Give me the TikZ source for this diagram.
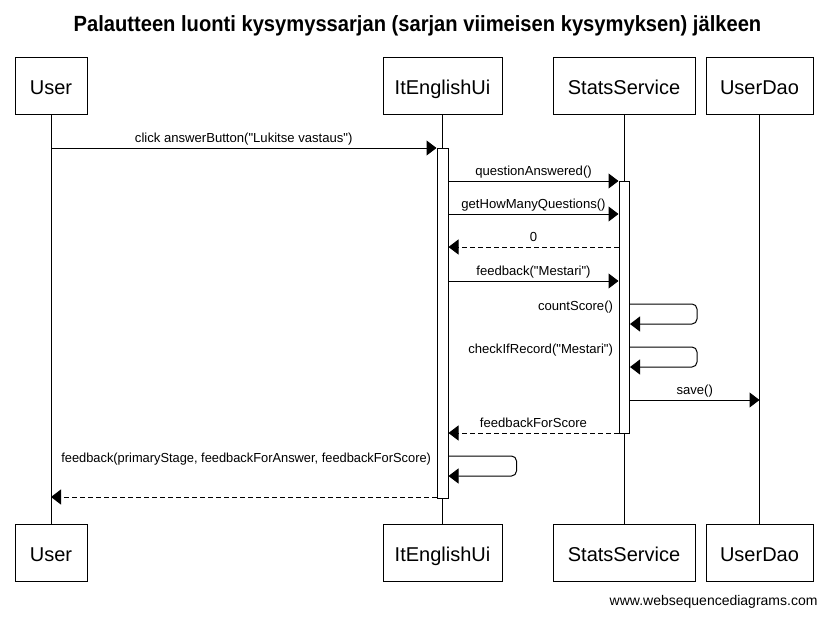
\documentclass[tikz,border=0pt]{standalone}
\usepackage{fontspec}
\setmainfont{Liberation Sans}
\newfontfamily\plainfont{Liberation Sans}
\usetikzlibrary{arrows.meta}
\begin{document}
\begin{tikzpicture}[x=1pt,y=-1pt,line width=1pt,
  party/.style={draw, fill=white, minimum height=57pt, inner sep=0pt, text height=17.5pt, text depth=0pt, font=\fontsize{20}{24}\selectfont},
  actbox/.style={draw, fill=white, inner sep=0pt},
  msg/.style={-{Triangle[length=10pt,width=15pt]}},
  ret/.style={msg, dash pattern=on 5pt off 3pt},
  lbl/.style={font=\plainfont\fontsize{13.1}{16}\selectfont, inner sep=0pt, anchor=base, yshift=5.5pt},
  lblr/.style={font=\plainfont\fontsize{13.1}{16}\selectfont, inner sep=0pt, anchor=base east}]
\useasboundingbox (0,0) rectangle (827,616);
% title
\node[font=\bfseries\fontsize{22}{26}\selectfont, inner sep=0pt, anchor=base] (title) at (417.5,31.7)
  {\scalebox{0.916}[1]{Palautteen luonti kysymyssarjan (sarjan viimeisen kysymyksen) jälkeen}};
% participants
\node[party, minimum width=72pt]  (userT) at (51,85.5) {User};
\node[party, minimum width=119pt] (uiT)   at (442.5,85.5) {ItEnglishUi};
\node[party, minimum width=142pt] (ssT)   at (624,85.5) {StatsService};
\node[party, minimum width=107pt] (daoT)  at (759.5,85.5) {UserDao};
\node[party, minimum width=72pt]  (userB) at (51,552.5) {User};
\node[party, minimum width=119pt] (uiB)   at (442.5,552.5) {ItEnglishUi};
\node[party, minimum width=142pt] (ssB)   at (624,552.5) {StatsService};
\node[party, minimum width=107pt] (daoB)  at (759.5,552.5) {UserDao};
% lifelines
\draw (userT.south) -- (userB.north);
\draw (uiT.south) -- (uiB.north);
\draw (ssT.south) -- (ssB.north);
\draw (daoT.south) -- (daoB.north);
% activations
\node[actbox, minimum width=11pt, minimum height=350pt] (act1) at (442.5,323) {};
\node[actbox, minimum width=10.5pt, minimum height=252pt] (act2) at (624.25,307) {};
% messages
\draw[msg] (userT |- 0,148) -- (act1.west |- 0,148)
  node[lbl, midway] {click answerButton("Lukitse vastaus")};
\draw[msg] (act1.east |- 0,181) -- (act2.west |- 0,181)
  node[lbl, midway] {questionAnswered()};
\draw[msg] (act1.east |- 0,214) -- (act2.west |- 0,214)
  node[lbl, midway] {getHowManyQuestions()};
\draw[ret] (act2.west |- 0,247) -- (act1.east |- 0,247)
  node[lbl, midway] {0};
\draw[msg] (act1.east |- 0,281) -- (act2.west |- 0,281)
  node[lbl, midway] {feedback("Mestari")};
% self calls on StatsService
\draw[msg, rounded corners=5pt] (act2.east |- 0,304) -- ([xshift=67pt]act2.east |- 0,304)
  -- ([xshift=67pt]act2.east |- 0,324) -- (act2.east |- 0,324);
\node[lblr] (lcs) at ([xshift=-5pt]act2.west |- 0,310) {countScore()};
\draw[msg, rounded corners=5pt] (act2.east |- 0,347) -- ([xshift=67pt]act2.east |- 0,347)
  -- ([xshift=67pt]act2.east |- 0,367) -- (act2.east |- 0,367);
\node[lblr] (lcr) at ([xshift=-5pt]act2.west |- 0,353) {checkIfRecord("Mestari")};
\draw[msg] (act2.east |- 0,400) -- (daoT |- 0,400)
  node[lbl, midway] {save()};
\draw[ret] (act2.west |- 0,433) -- (act1.east |- 0,433)
  node[lbl, midway] {feedbackForScore};
% self call on ItEnglishUi
\draw[msg, rounded corners=5pt] (act1.east |- 0,456) -- ([xshift=68pt]act1.east |- 0,456)
  -- ([xshift=68pt]act1.east |- 0,476) -- (act1.east |- 0,476);
\node[lblr] (lfb) at ([xshift=-5pt]act1.west |- 0,462) {\scalebox{0.98}[1]{feedback(primaryStage, feedbackForAnswer, feedbackForScore)}};
\draw[ret] (act1.west |- 0,497) -- (userT |- 0,497);
% footer
\node[font=\fontsize{14}{16}\selectfont, anchor=base east, inner sep=0pt] (foot) at (818,605.7) {www.websequencediagrams.com};
\end{tikzpicture}
\end{document}
